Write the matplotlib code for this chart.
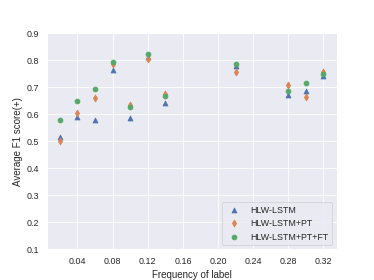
import matplotlib
matplotlib.use("Agg")
import matplotlib.pyplot as plt
import seaborn as sns

sns.set_theme(style="darkgrid")
plt.rcParams['font.family'] = ['Liberation Sans', 'DejaVu Sans']

freq = [0.02, 0.04, 0.06, 0.08, 0.10, 0.12, 0.14, 0.22, 0.28, 0.30, 0.32]
hlw_lstm = [0.514, 0.588, 0.578, 0.764, 0.584, 0.810, 0.642, 0.778, 0.670, 0.685, 0.741]
hlw_lstm_pt = [0.501, 0.605, 0.660, 0.786, 0.633, 0.806, 0.674, 0.757, 0.709, 0.662, 0.757]
hlw_lstm_pt_ft = [0.580, 0.647, 0.694, 0.794, 0.627, 0.823, 0.669, 0.786, 0.686, 0.714, 0.747]
xticks = [0.04, 0.08, 0.12, 0.16, 0.20, 0.24, 0.28, 0.32]
yticks = [0.1, 0.2, 0.3, 0.4, 0.5, 0.6, 0.7, 0.8, 0.9]

pal = sns.color_palette("deep")
fig, ax = plt.subplots(figsize=(6.4, 4.8), dpi=58.44)
ax.scatter(freq, hlw_lstm, marker='^', color=pal[0], label='HLW-LSTM')
ax.scatter(freq, hlw_lstm_pt, marker='d', color=pal[1], label='HLW-LSTM+PT')
ax.scatter(freq, hlw_lstm_pt_ft, marker='o', color=pal[2], label='HLW-LSTM+PT+FT')
ax.set_xticks(xticks)
ax.set_xticklabels([f"{t:.2f}" for t in xticks])
ax.set_yticks(yticks)
ax.set_yticklabels([f"{t:.1f}" for t in yticks])
ax.set_ylim(0.1, 0.9)
ax.set_xlabel("Frequency of label")
ax.set_ylabel("Average F1 score(+)")
ax.legend(loc='lower right')
fig.savefig("out.png", dpi=58.44)
